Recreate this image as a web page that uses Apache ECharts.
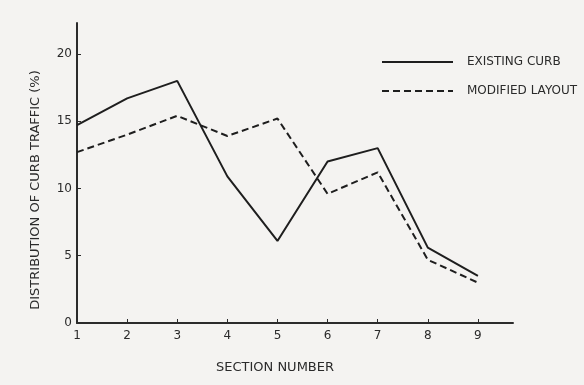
<!DOCTYPE html>
<html>
<head>
<meta charset="utf-8">
<script src="https://cdn.jsdelivr.net/npm/echarts@6/dist/echarts.min.js"></script>
<style>
  html, body { margin: 0; padding: 0; background: #f4f3f1; }
  #chart { width: 584px; height: 385px; }
</style>
</head>
<body>
<div id="chart"></div>
<script>
// Section numbers along the x axis
const sections = [1, 2, 3, 4, 5, 6, 7, 8, 9];
// Distribution of curb traffic (%) per section
const existingCurb = [14.7, 16.7, 18.0, 10.9, 6.1, 12.0, 13.0, 5.6, 3.5];
const modifiedLayout = [12.7, 14.0, 15.4, 13.9, 15.2, 9.6, 11.2, 4.7, 3.0];
const yTicks = [0, 5, 10, 15, 20];

const ink = '#2b2b2b';
const font = 'DejaVu Sans';

const chartDom = document.getElementById('chart');
const myChart = echarts.init(chartDom);

myChart.setOption({
    backgroundColor: '#f4f3f1',
    animation: false,
    grid: {
        left: 77,
        right: 71,
        top: 23,
        bottom: 62
    },
    legend: {
        orient: 'vertical',
        left: 381,
        top: 56,
        padding: 0,
        itemWidth: 71,
        itemHeight: 14,
        itemGap: 17,
        itemStyle: { opacity: 0 },
        textStyle: {
            fontFamily: font,
            fontSize: 12,
            color: ink,
            padding: [0, 0, 0, 9]
        },
        data: ['EXISTING CURB', 'MODIFIED LAYOUT']
    },
    xAxis: {
        type: 'value',
        min: 1,
        max: 9.7,
        interval: 1,
        name: 'SECTION NUMBER',
        nameLocation: 'middle',
        nameGap: 38,
        nameTextStyle: {
            fontFamily: font,
            fontSize: 13,
            color: ink,
            padding: [0, 40, 0, 0]
        },
        axisLine: { lineStyle: { color: ink, width: 2 } },
        axisTick: {
            inside: true,
            length: 4,
            lineStyle: { color: ink, width: 1 },
            customValues: sections
        },
        axisLabel: {
            fontFamily: font,
            fontSize: 12,
            color: ink,
            margin: 7,
            customValues: sections
        },
        splitLine: { show: false }
    },
    yAxis: {
        type: 'value',
        min: 0,
        max: 22.3,
        interval: 5,
        name: 'DISTRIBUTION OF CURB TRAFFIC (%)',
        nameLocation: 'middle',
        nameGap: 35,
        nameTextStyle: {
            fontFamily: font,
            fontSize: 13,
            color: ink,
            padding: [0, 34, 0, 0]
        },
        axisLine: { show: true, lineStyle: { color: ink, width: 2 } },
        axisTick: {
            show: true,
            inside: true,
            length: 4,
            lineStyle: { color: ink, width: 1 },
            customValues: yTicks
        },
        axisLabel: {
            fontFamily: font,
            fontSize: 12,
            color: ink,
            margin: 5,
            customValues: yTicks
        },
        splitLine: { show: false }
    },
    series: [
        {
            name: 'EXISTING CURB',
            type: 'line',
            symbol: 'none',
            data: sections.map((s, i) => [s, existingCurb[i]]),
            lineStyle: { color: '#1e1e1e', width: 2 },
            itemStyle: { color: '#1e1e1e' }
        },
        {
            name: 'MODIFIED LAYOUT',
            type: 'line',
            symbol: 'none',
            data: sections.map((s, i) => [s, modifiedLayout[i]]),
            lineStyle: { color: '#1e1e1e', width: 2, type: [7, 4] },
            itemStyle: { color: '#1e1e1e' }
        }
    ]
});
</script>
</body>
</html>
